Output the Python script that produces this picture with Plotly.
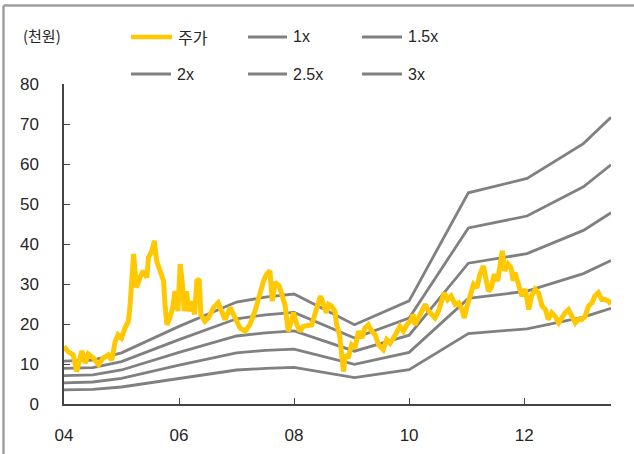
import plotly.graph_objects as go

# ---------------- data ----------------
price_year = [
    2004.00, 2004.07, 2004.16, 2004.22, 2004.25, 2004.31, 2004.37, 2004.42, 2004.51, 2004.60,
    2004.68, 2004.77, 2004.83, 2004.89, 2004.94, 2005.00, 2005.06, 2005.12, 2005.15, 2005.18,
    2005.21, 2005.23, 2005.26, 2005.32, 2005.38, 2005.44, 2005.47, 2005.53, 2005.57, 2005.61,
    2005.67, 2005.73, 2005.76, 2005.79, 2005.84, 2005.89, 2005.93, 2005.98, 2006.02, 2006.06,
    2006.09, 2006.13, 2006.17, 2006.22, 2006.27, 2006.31, 2006.35, 2006.38, 2006.45, 2006.51,
    2006.60, 2006.68, 2006.74, 2006.80, 2006.89, 2006.97, 2007.06, 2007.15, 2007.23, 2007.32,
    2007.41, 2007.47, 2007.52, 2007.58, 2007.62, 2007.67, 2007.74, 2007.79, 2007.84, 2007.90,
    2007.99, 2008.05, 2008.10, 2008.16, 2008.25, 2008.31, 2008.36, 2008.42, 2008.46, 2008.51,
    2008.56, 2008.60, 2008.65, 2008.71, 2008.74, 2008.79, 2008.83, 2008.86, 2008.89, 2008.94,
    2009.00, 2009.06, 2009.12, 2009.18, 2009.23, 2009.29, 2009.35, 2009.41, 2009.47, 2009.55,
    2009.61, 2009.67, 2009.73, 2009.79, 2009.84, 2009.90, 2009.96, 2010.02, 2010.07, 2010.10,
    2010.16, 2010.22, 2010.28, 2010.34, 2010.39, 2010.45, 2010.51, 2010.57, 2010.61, 2010.67,
    2010.73, 2010.80, 2010.86, 2010.92, 2010.96, 2011.00, 2011.06, 2011.12, 2011.18, 2011.23,
    2011.29, 2011.33, 2011.38, 2011.43, 2011.48, 2011.54, 2011.58, 2011.62, 2011.66, 2011.72,
    2011.77, 2011.81, 2011.84, 2011.90, 2011.96, 2012.02, 2012.08, 2012.13, 2012.19, 2012.25,
    2012.31, 2012.37, 2012.42, 2012.48, 2012.54, 2012.60, 2012.66, 2012.71, 2012.77, 2012.83,
    2012.89, 2012.94, 2013.00, 2013.06, 2013.12, 2013.18, 2013.23, 2013.29, 2013.35, 2013.41,
    2013.47, 2013.51,
]
price = [
    14.4, 13.1, 12.3, 8.1, 9.8, 13.3, 10.2, 12.5, 11.5, 9.8,
    11.5, 12.3, 11.0, 15.6, 17.3, 16.5, 19.0, 20.7, 24.9, 29.9,
    37.5, 34.1, 29.1, 31.6, 33.3, 31.6, 36.7, 38.3, 40.8, 35.8,
    33.3, 30.8, 24.1, 19.8, 21.5, 24.1, 28.2, 23.2, 35.0, 29.9,
    23.2, 28.2, 23.2, 25.7, 22.4, 30.8, 31.2, 22.4, 20.7, 21.5,
    24.1, 25.3, 23.2, 21.1, 24.1, 21.5, 19.0, 18.2, 19.8, 23.2,
    28.2, 30.8, 32.4, 33.3, 25.7, 30.4, 29.5, 27.0, 24.9, 18.2,
    22.8, 19.8, 18.2, 19.4, 19.8, 19.8, 22.4, 25.7, 27.0, 24.9,
    22.8, 24.9, 24.5, 23.2, 19.8, 17.3, 13.1, 8.1, 12.3, 11.5,
    14.8, 14.0, 18.2, 16.5, 19.0, 19.8, 18.2, 17.3, 14.8, 13.6,
    16.1, 15.2, 16.5, 18.2, 19.4, 18.2, 19.8, 20.7, 22.4, 19.8,
    21.5, 23.6, 24.9, 23.2, 22.4, 21.5, 23.2, 26.6, 27.8, 26.1,
    27.0, 24.9, 25.3, 23.6, 21.5, 24.1, 27.4, 29.9, 29.1, 32.4,
    34.5, 31.6, 28.2, 29.1, 32.4, 30.8, 35.0, 38.3, 33.3, 35.0,
    34.1, 30.8, 32.9, 30.3, 27.0, 28.7, 23.6, 27.0, 28.7, 27.8,
    24.5, 23.6, 21.1, 22.8, 21.9, 20.3, 21.9, 22.8, 23.6, 21.9,
    20.3, 21.1, 21.1, 21.9, 24.5, 25.3, 27.0, 27.8, 26.1, 26.1,
    25.7, 24.9,
]

band_year = [2004.0, 2004.5, 2005.0, 2006.0, 2007.0, 2007.5, 2008.0, 2009.05,
             2010.0, 2011.03, 2012.05, 2013.03, 2013.51]
band_1x = [3.55, 3.65, 4.25, 6.45, 8.5, 8.9, 9.15, 6.6, 8.6, 17.6, 18.8, 21.7, 23.9]
band_15x = [5.3, 5.5, 6.4, 9.7, 12.8, 13.4, 13.7, 9.9, 12.9, 26.4, 28.2, 32.6, 35.9]
band_2x = [7.1, 7.3, 8.5, 12.9, 17.0, 17.8, 18.3, 13.2, 17.2, 35.2, 37.6, 43.4, 47.8]
band_25x = [8.9, 9.1, 10.6, 16.1, 21.3, 22.3, 22.9, 16.5, 21.5, 44.0, 47.0, 54.3, 59.8]
band_3x = [10.7, 11.0, 12.8, 19.4, 25.5, 26.7, 27.5, 19.8, 25.8, 52.8, 56.4, 65.1, 71.7]

band_names = ["1x", "1.5x", "2x", "2.5x", "3x"]
band_values = [band_1x, band_15x, band_2x, band_25x, band_3x]

x_ticks = [2004, 2006, 2008, 2010, 2012]
x_ticktext = ["04", "06", "08", "10", "12"]
y_ticks = [0, 10, 20, 30, 40, 50, 60, 70, 80]

# ---------------- styling ----------------
W, H = 634, 454
ML, MR, MT, MB = 64, 23, 84, 50
PW, PH = W - ML - MR, H - MT - MB
YELLOW = "#FFC800"
GRAY = "#808080"
TXT = "#262626"
NUM_FONT = "Liberation Sans, Arial, sans-serif"
KR_FONT = "Noto Sans CJK KR, sans-serif"


def px(x):
    return (x - ML) / PW


def py(y):
    return (H - MB - y) / PH


fig = go.Figure()
for name, vals in zip(band_names, band_values):
    fig.add_trace(go.Scatter(x=band_year, y=vals, mode="lines", name=name,
                             line=dict(color=GRAY, width=2.8), showlegend=False))
fig.add_trace(go.Scatter(x=price_year, y=price, mode="lines", name="주가",
                         line=dict(color=YELLOW, width=5), showlegend=False))

shapes = []
annotations = []

# outer frame (top and left edges)
shapes.append(dict(type="line", xref="paper", yref="paper", x0=px(3.5), x1=px(640),
                   y0=py(5.5), y1=py(5.5), line=dict(color="#A0A0A0", width=2.5)))
shapes.append(dict(type="line", xref="paper", yref="paper", x0=px(3.5), x1=px(3.5),
                   y0=py(5.5), y1=py(460), line=dict(color="#A0A0A0", width=2.5)))

# legend (manual, 2 rows x 3 columns)
legend_items = [
    ("주가", YELLOW, 4.5, 131, 172, 37, KR_FONT, 16),
    ("1x", GRAY, 3, 248, 287, 37, NUM_FONT, 16),
    ("1.5x", GRAY, 3, 362, 402, 37, NUM_FONT, 16),
    ("2x", GRAY, 3, 131, 171, 74, NUM_FONT, 16),
    ("2.5x", GRAY, 3, 248, 287, 74, NUM_FONT, 16),
    ("3x", GRAY, 3, 362, 402, 74, NUM_FONT, 16),
]
for label, col, w, x0, x1, yy, fnt, fs in legend_items:
    shapes.append(dict(type="line", xref="paper", yref="paper", x0=px(x0), x1=px(x1),
                       y0=py(yy), y1=py(yy), line=dict(color=col, width=w)))
    annotations.append(dict(text=label, xref="paper", yref="paper", x=px(x1 + 4), y=py(yy),
                            xanchor="left", yanchor="middle", showarrow=False,
                            font=dict(family=fnt, size=fs, color=TXT)))

annotations.append(dict(text="(천원)", xref="paper", yref="paper", x=px(21), y=py(35),
                        xanchor="left", yanchor="middle", showarrow=False,
                        font=dict(family=KR_FONT, size=15, color=TXT)))

fig.update_layout(
    width=W, height=H,
    margin=dict(l=ML, r=MR, t=MT, b=MB, pad=0, autoexpand=False),
    paper_bgcolor="white", plot_bgcolor="white",
    shapes=shapes, annotations=annotations,
    showlegend=False,
    font=dict(family=NUM_FONT, size=17, color=TXT),
)
fig.update_xaxes(range=[2004, 2013.51], tickvals=x_ticks, ticktext=x_ticktext,
                 showgrid=False, zeroline=False, showline=True, linecolor="#444",
                 linewidth=1.5, ticks="inside", ticklen=6, tickcolor="#444",
                 tickwidth=1.2, ticklabelstandoff=15, automargin=False,
                 tickfont=dict(family=NUM_FONT, size=17, color=TXT))
fig.update_yaxes(range=[0, 80], tickvals=y_ticks, showgrid=False, zeroline=False,
                 showline=True, linecolor="#444", linewidth=1.5, ticks="inside",
                 ticklen=6, tickcolor="#444", tickwidth=1.2, ticklabelstandoff=20,
                 automargin=False,
                 tickfont=dict(family=NUM_FONT, size=17, color=TXT))

fig.write_html("out.html")
